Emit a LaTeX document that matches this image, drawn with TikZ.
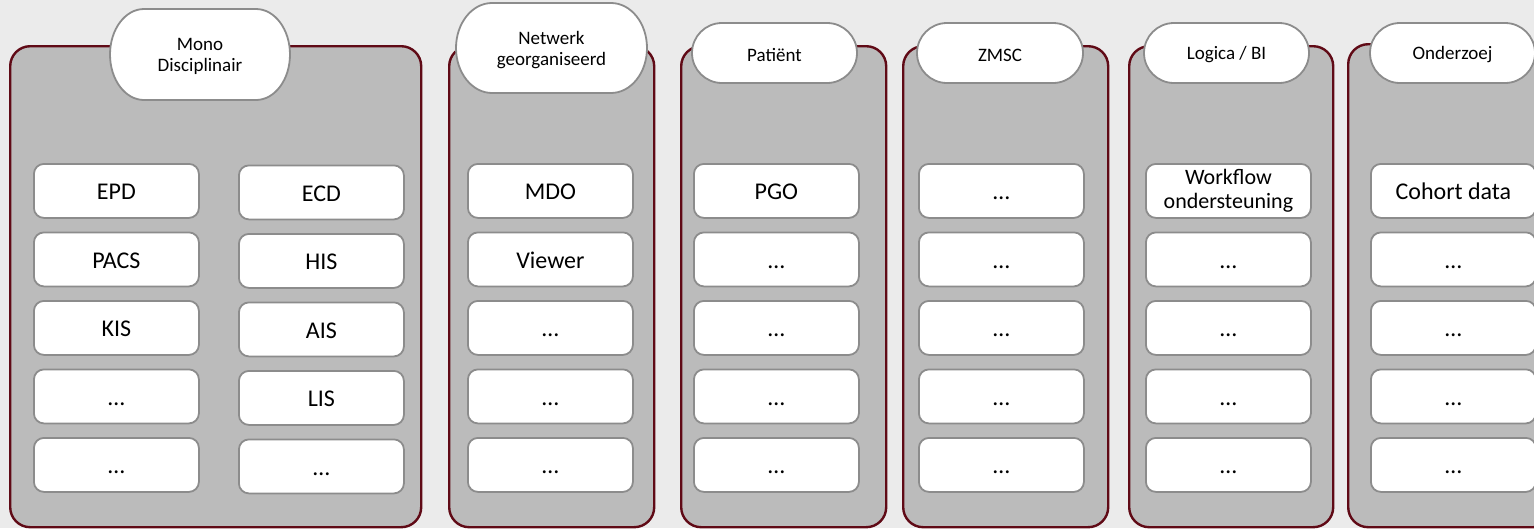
\documentclass[tikz,border=0pt]{standalone}
\usepackage{fontspec}
\setmainfont{Carlito}
\definecolor{bgcol}{HTML}{EBEBEB}
\definecolor{cgray}{HTML}{BBBBBB}
\definecolor{cred}{HTML}{600A16}
\definecolor{bgray}{HTML}{8C8C8C}
\tikzset{
  container/.style={draw=cred, fill=cgray, line width=2.4pt, rounded corners=20pt, anchor=north west, inner sep=0pt},
  itembox/.style={draw=bgray, fill=white, line width=1.8pt, rounded corners=10pt, minimum width=165pt, minimum height=54pt, inner sep=0pt, anchor=north west, font=\fontsize{24}{26}\selectfont, text height=20pt, text depth=2pt},
  wrapbox/.style={draw=bgray, fill=white, line width=1.8pt, rounded corners=10pt, minimum width=165pt, minimum height=54pt, inner sep=0pt, anchor=north west, align=center, font=\fontsize{22}{23.5}\selectfont},
  pilltext/.style={font=\fontsize{19}{21.5}\selectfont, align=center, inner sep=0pt, yshift=-2pt},
  pillline/.style={draw=bgray, fill=white, line width=1.8pt},
}
% #1 name, #2 x1, #3 y1, #4 x2, #5 y2, #6 rx, #7 ry, #8 text
\newcommand\pillshape[8]{%
  \path[pillline] (#2+#6,#3) -- (#4-#6,#3)
    arc[start angle=90,end angle=-90,x radius=#6pt,y radius=#7pt]
    -- (#2+#6,#5)
    arc[start angle=270,end angle=90,x radius=#6pt,y radius=#7pt] -- cycle;
  \node[pilltext] (#1) at ({(#2+#4)/2},{(#3+#5)/2}) {#8};
}
\begin{document}
\begin{tikzpicture}[x=1pt,y=-1pt]
\useasboundingbox (0,0) rectangle (1534,528);
\clip (0,0) rectangle (1534,528);
\fill[bgcol] (0,0) rectangle (1534,528);

% containers
\node[container, minimum width=411pt, minimum height=481pt] (c1) at (9,45) {};
\node[container, minimum width=205pt, minimum height=481pt] (c2) at (448,45) {};
\node[container, minimum width=205pt, minimum height=481pt] (c3) at (680,45) {};
\node[container, minimum width=205pt, minimum height=481pt] (c4) at (902,45) {};
\node[container, minimum width=204pt, minimum height=481pt] (c5) at (1128,45) {};
\node[container, minimum width=205pt, minimum height=483pt] (c6) at (1347,43) {};

% header pills
\pillshape{p1}{110}{9}{290}{100}{34}{45.5}{Mono\\Disciplinair}
\pillshape{p2}{456}{3}{647}{93}{36}{45}{Netwerk\\georganiseerd}
\pillshape{p3}{692}{23}{857}{83}{30}{30}{Patiënt}
\pillshape{p4}{917}{23}{1083}{83}{30}{30}{ZMSC}
\pillshape{p5}{1144}{23}{1309}{83}{30}{30}{Logica / BI}
\pillshape{p6}{1370}{23}{1535}{83}{30}{30}{Onderzoej}

% items
\foreach \t [count=\i] in {EPD,PACS,KIS,\ldots,\ldots}
  \node[itembox] (a\i) at (33,{163+(\i-1)*68.5}) {\t};
\foreach \t [count=\i] in {ECD,HIS,AIS,LIS,\ldots}
  \node[itembox] (b\i) at (238,{164.5+(\i-1)*68.5}) {\t};
\foreach \t [count=\i] in {MDO,Viewer,\ldots,\ldots,\ldots}
  \node[itembox] (d\i) at (467,{163+(\i-1)*68.5}) {\t};
\foreach \t [count=\i] in {PGO,\ldots,\ldots,\ldots,\ldots}
  \node[itembox] (e\i) at (693,{163+(\i-1)*68.5}) {\t};
\foreach \t [count=\i] in {\ldots,\ldots,\ldots,\ldots,\ldots}
  \node[itembox] (f\i) at (918,{163+(\i-1)*68.5}) {\t};
\node[wrapbox] (g1) at (1145,163) {Workflow\\ondersteuning};
\foreach \i in {2,...,5}
  \node[itembox] (g\i) at (1145,{163+(\i-1)*68.5}) {\ldots};
\node[itembox] (h1) at (1370,163) {Cohort data};
\foreach \i in {2,...,5}
  \node[itembox] (h\i) at (1370,{163+(\i-1)*68.5}) {\ldots};
\end{tikzpicture}
\end{document}
